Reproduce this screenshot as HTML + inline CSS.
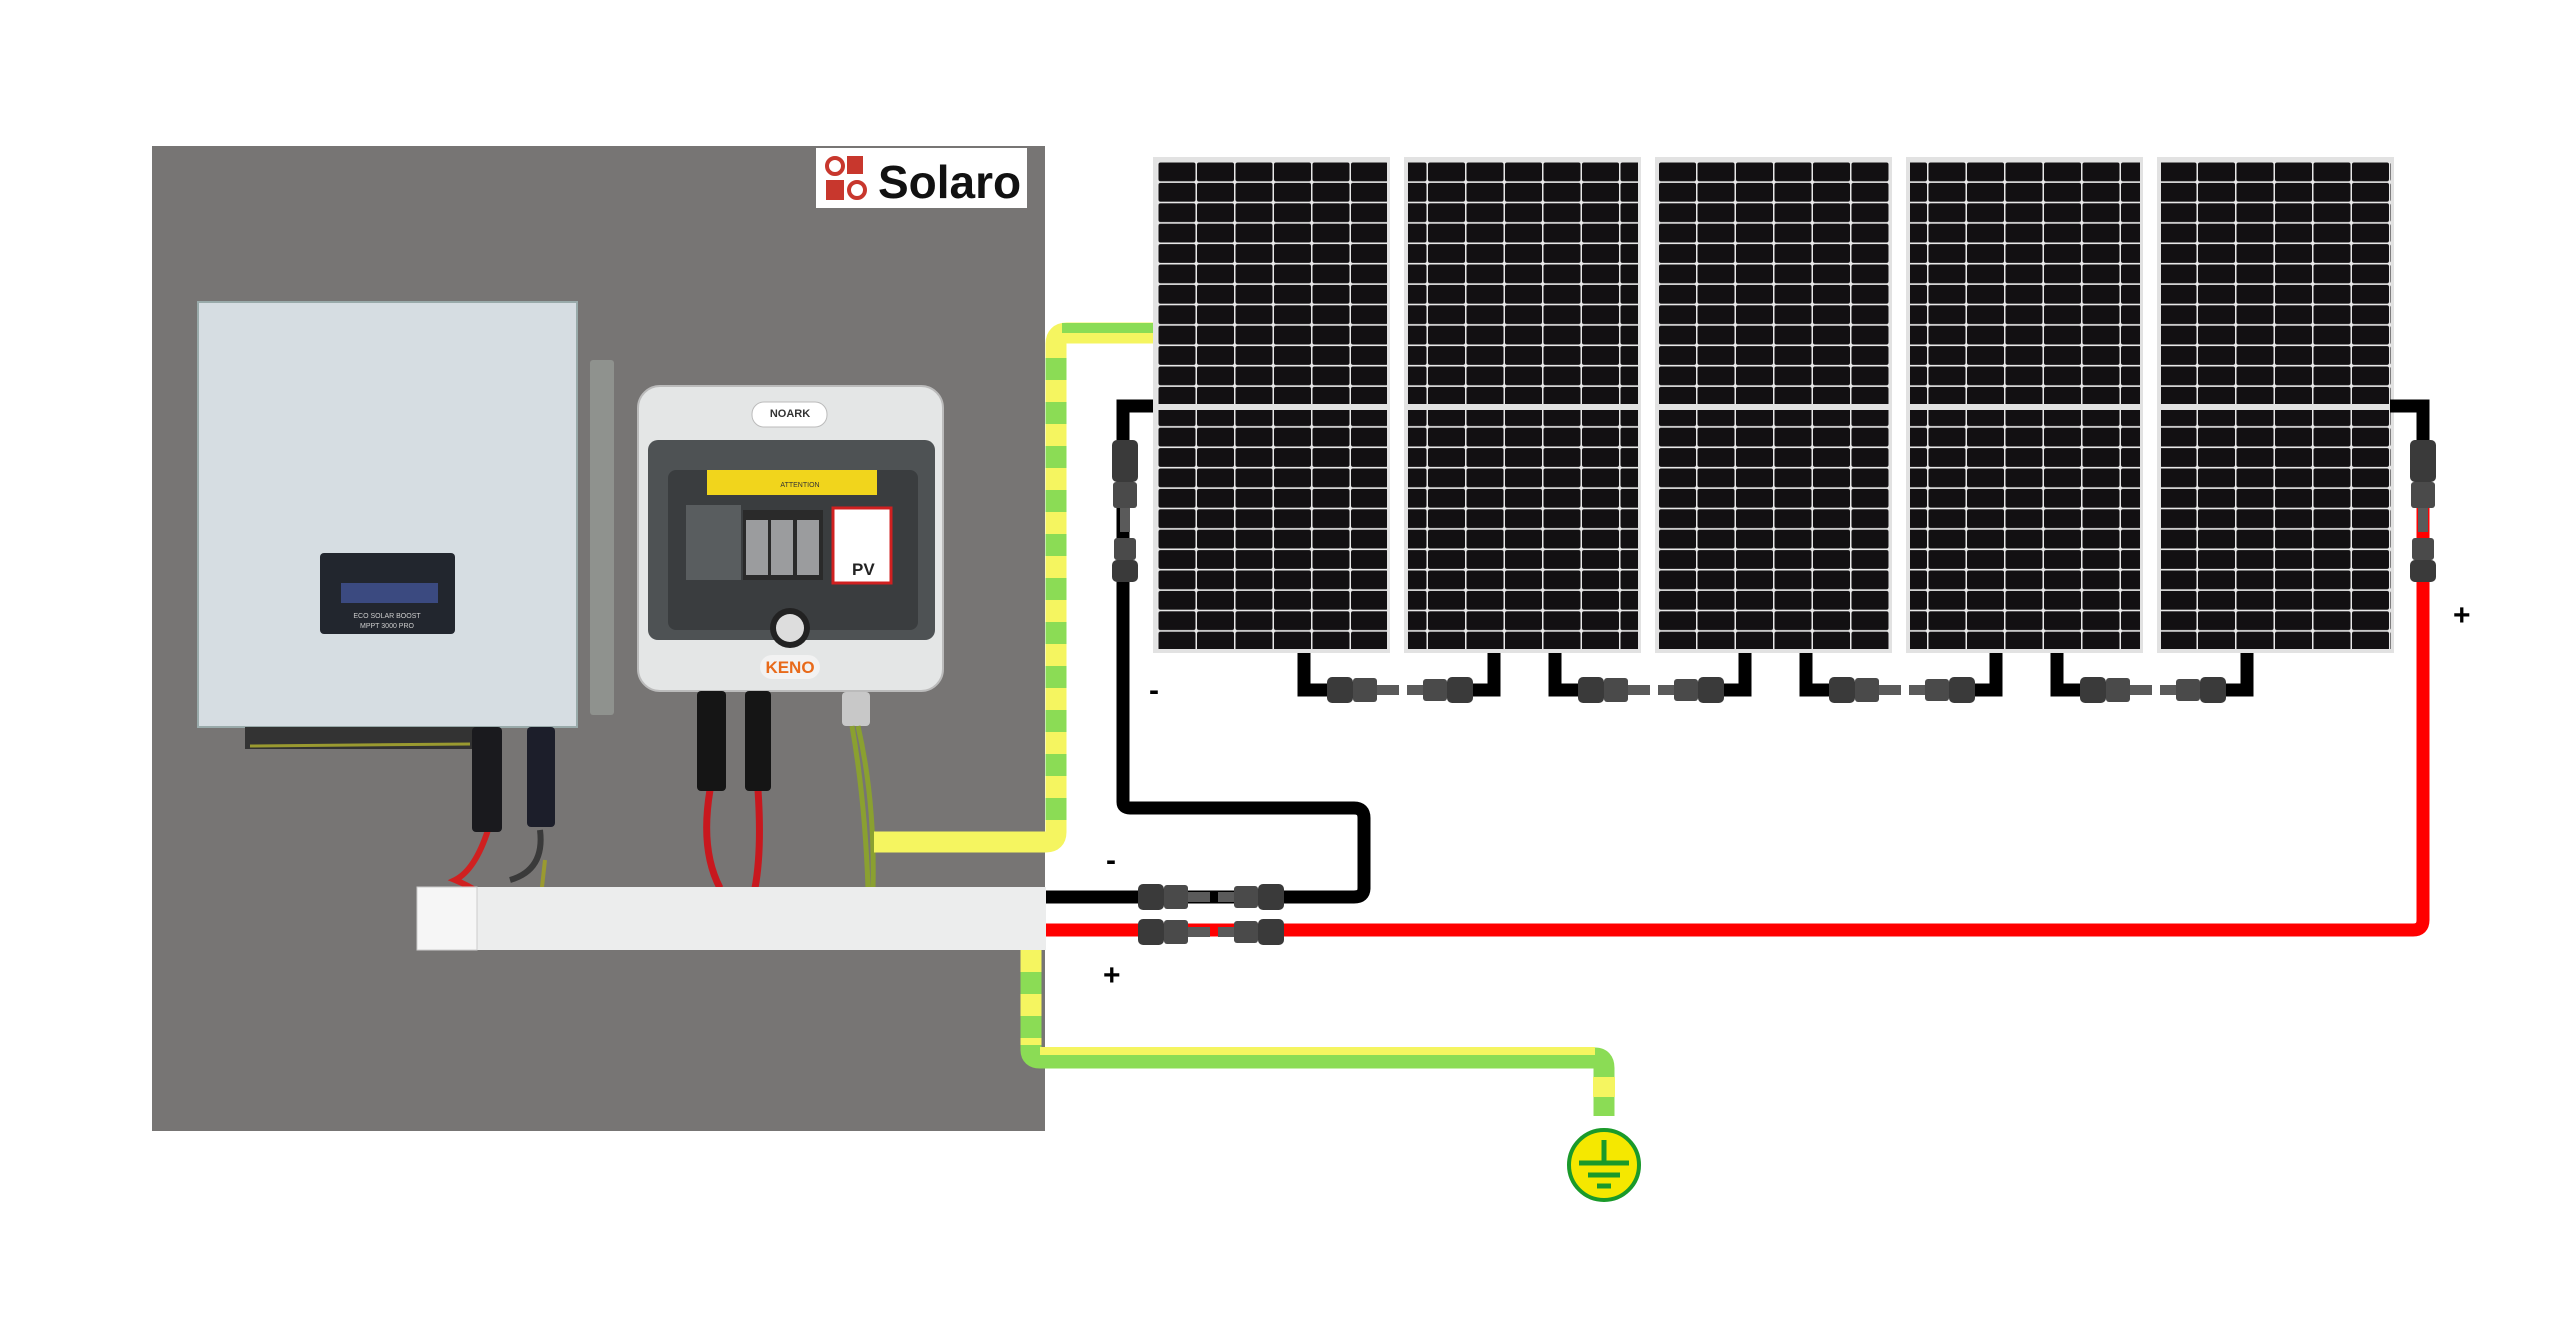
<!DOCTYPE html>
<html><head><meta charset="utf-8"><style>html,body{margin:0;padding:0;background:#fff}svg{display:block}</style></head>
<body>
<svg width="2560" height="1321" viewBox="0 0 2560 1321" xmlns="http://www.w3.org/2000/svg">
<defs>
<pattern id="cells" x="1158" y="162" width="38.5" height="20.4" patternUnits="userSpaceOnUse">
<rect width="38.5" height="20.4" fill="#e8e8e8"/>
<rect x="0.5" y="0.5" width="37" height="18.8" rx="2" fill="#121012"/>
</pattern>
<g id="conH">
<rect x="0" y="-13" width="26" height="26" rx="5" fill="#3a3a3a"/>
<rect x="26" y="-12" width="24" height="24" rx="3" fill="#4a4a4a"/>
<rect x="50" y="-5" width="22" height="10" fill="#5a5a5a"/>
<rect x="80" y="-5" width="22" height="10" fill="#5a5a5a"/>
<rect x="96" y="-11" width="24" height="22" rx="3" fill="#4a4a4a"/>
<rect x="120" y="-13" width="26" height="26" rx="5" fill="#3a3a3a"/>
</g>
<g id="conV">
<rect x="-13" y="0" width="26" height="42" rx="5" fill="#3a3a3a"/>
<rect x="-12" y="42" width="24" height="26" rx="3" fill="#4a4a4a"/>
<rect x="-5" y="68" width="10" height="24" fill="#5a5a5a"/>
<rect x="-11" y="98" width="22" height="22" rx="3" fill="#4a4a4a"/>
<rect x="-13" y="120" width="26" height="22" rx="5" fill="#3a3a3a"/>
</g>
</defs>

<!-- board -->
<rect x="152" y="146" width="893" height="985" fill="#7a7977"/>
<rect x="152" y="146" width="893" height="985" fill="#6f6e6c" opacity="0.3"/>
<!-- logo -->
<rect x="816" y="148" width="211" height="60" fill="#fff"/>
<circle cx="835" cy="166" r="8" fill="none" stroke="#c8372d" stroke-width="4"/>
<rect x="847" y="156" width="16" height="18" fill="#c8372d"/>
<rect x="826" y="180" width="18" height="20" fill="#c8372d"/>
<circle cx="857" cy="190" r="8" fill="none" stroke="#c8372d" stroke-width="4"/>
<text x="878" y="198" font-family="Liberation Sans, sans-serif" font-weight="bold" font-size="46" fill="#111">Solaro</text>

<!-- inverter bracket -->
<rect x="590" y="360" width="24" height="355" rx="3" fill="#8f928e"/>
<!-- inverter -->
<rect x="198" y="302" width="379" height="425" fill="#d6dde2" stroke="#9aa" stroke-width="2"/>
<rect x="320" y="553" width="135" height="81" rx="4" fill="#22262e"/>
<rect x="341" y="583" width="97" height="20" fill="#3b4a80"/>
<text x="387" y="618" font-family="Liberation Sans, sans-serif" font-size="7" fill="#ccc" text-anchor="middle">ECO SOLAR BOOST</text>
<text x="387" y="628" font-family="Liberation Sans, sans-serif" font-size="7" fill="#ccc" text-anchor="middle">MPPT 3000 PRO</text>
<rect x="245" y="727" width="250" height="22" fill="#333"/>
<line x1="250" y1="746" x2="470" y2="744" stroke="#9a9a30" stroke-width="3"/>
<!-- inverter connectors and wires -->
<path d="M488 830 Q475 870 455 880 Q480 890 492 905" stroke="#d02020" stroke-width="6" fill="none"/>
<path d="M540 830 Q545 870 510 880" stroke="#3a3a3a" stroke-width="6" fill="none"/>
<path d="M545 860 L540 905" stroke="#9a9a30" stroke-width="4" fill="none"/>
<rect x="472" y="727" width="30" height="105" rx="4" fill="#1a1a1e"/>
<rect x="527" y="727" width="28" height="100" rx="4" fill="#1c1e2a"/>

<!-- combiner box -->
<rect x="638" y="386" width="305" height="305" rx="22" fill="#e4e6e6" stroke="#bbb" stroke-width="2"/>
<rect x="648" y="440" width="287" height="200" rx="10" fill="#4e5254"/>
<rect x="668" y="470" width="250" height="160" rx="8" fill="#3a3d3f"/>
<rect x="707" y="470" width="170" height="25" fill="#f1d51c"/>
<text x="800" y="487" font-family="Liberation Sans, sans-serif" font-size="7" fill="#333" text-anchor="middle">ATTENTION</text>
<rect x="686" y="505" width="55" height="75" fill="#595d5f"/>
<rect x="743" y="510" width="80" height="70" fill="#2a2a2a"/>
<rect x="746" y="520" width="22" height="55" fill="#9b9c9e"/>
<rect x="771" y="520" width="22" height="55" fill="#9b9c9e"/>
<rect x="797" y="520" width="22" height="55" fill="#9b9c9e"/>
<rect x="833" y="508" width="58" height="75" fill="#fff" stroke="#d02020" stroke-width="3"/>
<text x="852" y="575" font-family="Liberation Sans, sans-serif" font-weight="bold" font-size="17" fill="#222">PV</text>
<rect x="752" y="402" width="75" height="25" rx="12" fill="#fff" stroke="#bbb"/>
<text x="790" y="417" font-family="Liberation Sans, sans-serif" font-weight="bold" font-size="11" fill="#333" text-anchor="middle">NOARK</text>
<circle cx="790" cy="628" r="20" fill="#222"/><circle cx="790" cy="628" r="14" fill="#ddd"/>
<rect x="760" y="655" width="60" height="24" rx="12" fill="#f2f2f2"/>
<text x="790" y="673" font-family="Liberation Sans, sans-serif" font-weight="bold" font-size="17" fill="#e86a1a" text-anchor="middle">KENO</text>
<!-- combiner outgoing -->
<path d="M710 790 Q700 850 720 888 M758 790 Q762 850 755 888" stroke="#c8181e" stroke-width="7" fill="none"/>
<rect x="697" y="691" width="29" height="100" rx="4" fill="#151515"/>
<rect x="745" y="691" width="26" height="100" rx="4" fill="#151515"/>
<rect x="842" y="692" width="28" height="34" rx="4" fill="#c8c8c8"/>
<path d="M852 726 Q865 800 868 888 M858 726 Q875 800 873 888" stroke="#8aa030" stroke-width="5" fill="none"/>

<!-- trunking -->
<rect x="417" y="887" width="629" height="63" fill="#eceded"/>
<rect x="417" y="887" width="60" height="63" fill="#f6f6f6" stroke="#ccc"/>

<!-- ground wire top -->
<path d="M874 842 L1046 842 Q1056 842 1056 832 L1056 344 Q1056 333 1067 333 L1153 333" stroke="#f5f560" stroke-width="21" fill="none"/>
<path d="M1056 820 L1056 344" stroke="#8bdc55" stroke-width="21" fill="none" stroke-dasharray="22 22"/>
<rect x="1062" y="323" width="91" height="10" fill="#8bdc55"/>
<!-- ground wire bottom -->
<path d="M1031 950 L1031 1050 Q1031 1058 1040 1058 L1595 1058 Q1604 1058 1604 1068 L1604 1116" stroke="#8bdc55" stroke-width="21" fill="none"/>
<path d="M1031 950 L1031 1045" stroke="#f5f560" stroke-width="21" fill="none" stroke-dasharray="22 22"/>
<rect x="1040" y="1047" width="555" height="8" fill="#f5f560"/>
<rect x="1593" y="1077" width="22" height="20" fill="#f5f560"/>
<circle cx="1604" cy="1165" r="35" fill="#f5e800" stroke="#1a9a2a" stroke-width="4"/>
<path d="M1604 1140 V1163 M1579 1163 H1629 M1588 1175 H1620 M1597 1186 H1611" stroke="#1a9a2a" stroke-width="5"/>

<!-- panels -->
<g>
<rect x="1153" y="157" width="237" height="496" fill="#e2e2e2"/>
<rect x="1404" y="157" width="237" height="496" fill="#e2e2e2"/>
<rect x="1655" y="157" width="237" height="496" fill="#e2e2e2"/>
<rect x="1906" y="157" width="237" height="496" fill="#e2e2e2"/>
<rect x="2157" y="157" width="237" height="496" fill="#e2e2e2"/>
<rect x="1157" y="162" width="230" height="242" fill="url(#cells)"/>
<rect x="1157" y="410" width="230" height="239" fill="url(#cells)"/>
<rect x="1408" y="162" width="230" height="242" fill="url(#cells)"/>
<rect x="1408" y="410" width="230" height="239" fill="url(#cells)"/>
<rect x="1659" y="162" width="230" height="242" fill="url(#cells)"/>
<rect x="1659" y="410" width="230" height="239" fill="url(#cells)"/>
<rect x="1910" y="162" width="230" height="242" fill="url(#cells)"/>
<rect x="1910" y="410" width="230" height="239" fill="url(#cells)"/>
<rect x="2161" y="162" width="230" height="242" fill="url(#cells)"/>
<rect x="2161" y="410" width="230" height="239" fill="url(#cells)"/>
</g>

<!-- series loops -->
<g stroke="#000" stroke-width="13" fill="none">
<path d="M1304 653 V690 H1330 M1470 690 H1494 V653"/>
<path d="M1555 653 V690 H1581 M1721 690 H1745 V653"/>
<path d="M1806 653 V690 H1832 M1972 690 H1996 V653"/>
<path d="M2057 653 V690 H2083 M2223 690 H2247 V653"/>
</g>
<use href="#conH" x="1327" y="690"/>
<use href="#conH" x="1578" y="690"/>
<use href="#conH" x="1829" y="690"/>
<use href="#conH" x="2080" y="690"/>

<!-- black negative wire -->
<path d="M1153 406 H1123 V802 Q1123 808 1130 808 H1354 Q1364 808 1364 818 V888 Q1364 897 1354 897 H1046" stroke="#000" stroke-width="13" fill="none"/>
<use href="#conV" x="1125" y="440"/>
<rect x="1125" y="585" width="0" height="0"/>
<!-- red positive wire -->
<path d="M2390 406 H2423 V920 Q2423 930 2413 930 H1046" stroke="#ff0000" stroke-width="13" fill="none"/>
<path d="M2390 406 H2423 V440" stroke="#000" stroke-width="13" fill="none"/>
<use href="#conV" x="2423" y="440"/>
<!-- main connectors -->
<use href="#conH" x="1138" y="897"/>
<use href="#conH" x="1138" y="932"/>

<!-- labels -->
<text x="1149" y="700" font-family="Liberation Sans, sans-serif" font-weight="bold" font-size="30" fill="#000">-</text>
<text x="1106" y="870" font-family="Liberation Sans, sans-serif" font-weight="bold" font-size="30" fill="#000">-</text>
<text x="1103" y="985" font-family="Liberation Sans, sans-serif" font-weight="bold" font-size="30" fill="#000">+</text>
<text x="2453" y="625" font-family="Liberation Sans, sans-serif" font-weight="bold" font-size="30" fill="#000">+</text>
</svg>
</body></html>
